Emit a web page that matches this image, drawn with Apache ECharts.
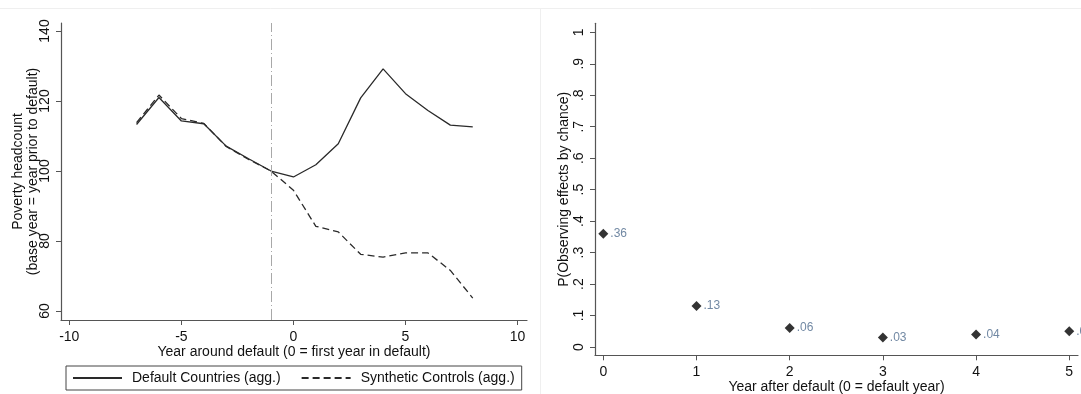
<!DOCTYPE html>
<html>
<head>
<meta charset="utf-8">
<script src="https://cdn.jsdelivr.net/npm/echarts@6/dist/echarts.min.js"></script>
<style>
  html, body { margin: 0; padding: 0; background: #fff; }
  #chart { width: 1081px; height: 394px; }
</style>
</head>
<body>
<div id="chart"></div>
<script>
// Left panel: poverty headcount around default (index, year before default = 100)
const years = [-7, -6, -5, -4, -3, -2, -1, 0, 1, 2, 3, 4, 5, 6, 7, 8];
const defaultCountries = [113.3, 121.0, 114.3, 113.5, 107.1, 103.5, 100, 98.3, 101.8, 107.8, 120.9, 129.2, 122.1, 117.3, 113.1, 112.6];
const syntheticControls = [113.8, 121.7, 115.0, 113.6, 107.0, 103.3, 100, 94.5, 84.2, 82.6, 76.2, 75.4, 76.6, 76.6, 71.6, 63.7];
const defaultYear = -1;
const leftXTicks = [-10, -5, 0, 5, 10];
const leftYTicks = [60, 80, 100, 120, 140];

// Right panel: probability of observing the effect by chance
const yearsAfter = [0, 1, 2, 3, 4, 5];
const pValues = [0.36, 0.13, 0.06, 0.03, 0.04, 0.05];
const rightXTicks = [0, 1, 2, 3, 4, 5];
const rightYTicks = [0, 0.1, 0.2, 0.3, 0.4, 0.5, 0.6, 0.7, 0.8, 0.9, 1];

const FONT = 'Liberation Sans, Arial, sans-serif';
const AXIS = '#555';
const INK = '#2a2a2a';

const pairs = (xs, ys) => xs.map((x, i) => [x, ys[i]]);
const stataDec = v => {
  if (Math.abs(v) < 1e-9) return '0';
  if (Math.abs(v - 1) < 1e-9) return '1';
  return (+v.toFixed(2)).toString().replace(/^0\./, '.');
};

const axisCommon = {
  axisLine: { show: true, onZero: false, lineStyle: { color: AXIS, width: 1.2 } },
  axisTick: { show: true, length: 5, lineStyle: { color: AXIS, width: 1 } },
  splitLine: { show: false },
  nameMoveOverlap: false,
  nameTextStyle: { fontFamily: FONT, fontSize: 14, color: '#111' }
};

const chart = echarts.init(document.getElementById('chart'), null, { renderer: 'canvas' });
chart.setOption({
  backgroundColor: '#fff',
  animation: false,
  textStyle: { fontFamily: FONT },
  graphic: [
    { type: 'line', shape: { x1: 0, y1: 8.5, x2: 1081, y2: 8.5 }, style: { stroke: '#efefef', lineWidth: 1 }, silent: true },
    { type: 'line', shape: { x1: 540.5, y1: 8, x2: 540.5, y2: 394 }, style: { stroke: '#efefef', lineWidth: 1 }, silent: true }
  ],
  grid: [
    { left: 61, top: 23, width: 466, height: 297, outerBoundsMode: 'none', containLabel: false },
    { left: 595, top: 23.3, width: 483, height: 332, outerBoundsMode: 'none', containLabel: false }
  ],
  legend: {
    data: ['Default Countries (agg.)', 'Synthetic Controls (agg.)'],
    left: 66, top: 366,
    padding: [5, 7, 5, 6],
    itemWidth: 49, itemHeight: 14, itemGap: 20,
    selectedMode: false,
    borderColor: '#444', borderWidth: 1,
    itemStyle: { color: 'rgba(0,0,0,0)', borderWidth: 0, opacity: 0 },
    textStyle: { fontFamily: FONT, fontSize: 14, color: '#111', padding: [0, 0, 0, 5] }
  },
  xAxis: [
    Object.assign({}, axisCommon, {
      gridIndex: 0, type: 'value', min: -10.37, max: 10.42,
      name: 'Year around default (0 = first year in default)',
      nameLocation: 'middle', nameGap: 25,
      axisTick: Object.assign({}, axisCommon.axisTick, { customValues: leftXTicks }),
      axisLabel: { customValues: leftXTicks, margin: 10, fontSize: 14, color: '#111', fontFamily: FONT }
    }),
    Object.assign({}, axisCommon, {
      gridIndex: 1, type: 'value', min: -0.089, max: 5.094,
      name: 'Year after default (0 = default year)',
      nameLocation: 'middle', nameGap: 25,
      axisTick: Object.assign({}, axisCommon.axisTick, { customValues: rightXTicks }),
      axisLabel: { customValues: rightXTicks, margin: 10, fontSize: 14, color: '#111', fontFamily: FONT }
    })
  ],
  yAxis: [
    Object.assign({}, axisCommon, {
      gridIndex: 0, type: 'value', min: 57.43, max: 142.29,
      name: 'Poverty headcount\n(base year = year prior to default)',
      nameLocation: 'middle', nameGap: 20, nameRotate: 90,
      nameTextStyle: Object.assign({}, axisCommon.nameTextStyle, { lineHeight: 15 }),
      axisTick: Object.assign({}, axisCommon.axisTick, { customValues: leftYTicks }),
      axisLabel: { customValues: leftYTicks, rotate: 90, margin: 9, fontSize: 14, color: '#111', fontFamily: FONT }
    }),
    Object.assign({}, axisCommon, {
      gridIndex: 1, type: 'value', min: -0.0264, max: 1.0286,
      name: 'P(Observing effects by chance)',
      nameLocation: 'middle', nameGap: 24, nameRotate: 90,
      axisTick: Object.assign({}, axisCommon.axisTick, { customValues: rightYTicks }),
      axisLabel: { customValues: rightYTicks, rotate: 90, margin: 9, fontSize: 14, color: '#111', fontFamily: FONT, formatter: stataDec }
    })
  ],
  series: [
    {
      name: 'Default Countries (agg.)', type: 'line',
      xAxisIndex: 0, yAxisIndex: 0,
      data: pairs(years, defaultCountries),
      symbol: 'none', color: INK,
      lineStyle: { color: INK, width: 1.3, type: 'solid' },
      markLine: {
        silent: true, symbol: 'none', label: { show: false },
        lineStyle: { color: '#a8a8a8', width: 1, type: [11, 3, 1, 3] },
        data: [{ xAxis: defaultYear }]
      }
    },
    {
      name: 'Synthetic Controls (agg.)', type: 'line',
      xAxisIndex: 0, yAxisIndex: 0,
      data: pairs(years, syntheticControls),
      symbol: 'none', color: INK,
      lineStyle: { color: INK, width: 1.3, type: [7, 4] }
    },
    {
      name: 'P-value', type: 'scatter',
      xAxisIndex: 1, yAxisIndex: 1,
      data: pairs(yearsAfter, pValues),
      symbol: 'diamond', symbolSize: [10, 10],
      itemStyle: { color: '#000' },
      label: {
        show: true, position: 'right', distance: 2,
        fontFamily: FONT, fontSize: 12, color: '#4d6a8c',
        formatter: p => stataDec(p.value[1])
      }
    }
  ]
});
</script>
</body>
</html>
